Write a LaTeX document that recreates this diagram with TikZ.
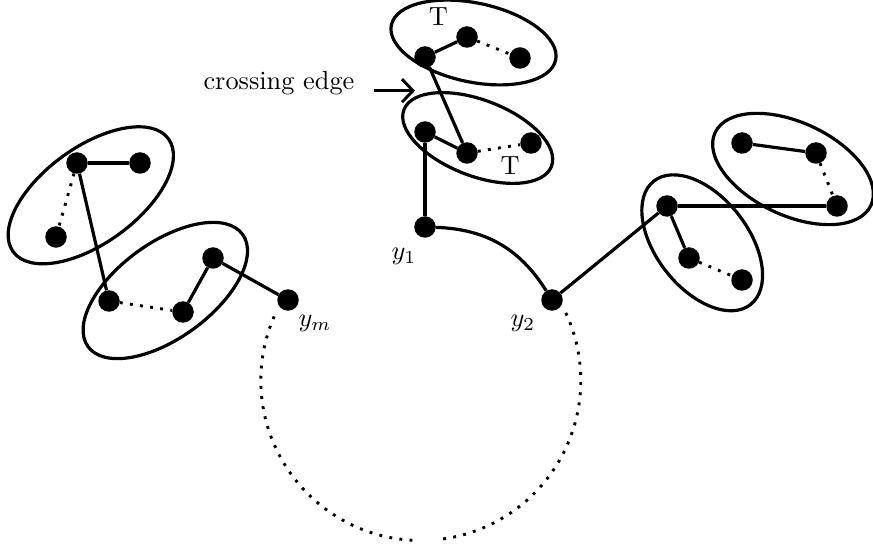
\documentclass[tikz,border=0pt]{standalone}
\usetikzlibrary{arrows.meta}
\begin{document}
\begin{tikzpicture}[x=1pt,y=1pt,
  vtx/.style={circle,fill=black,inner sep=0pt,minimum size=21.5pt},
  edge/.style={line width=3.2pt},
  dotedge/.style={line width=2.9pt, dash pattern=on 2.9pt off 7.3pt},
  grp/.style={line width=3.2pt},
  lbl/.style={inner sep=0pt, scale=2.63}]
\useasboundingbox (0,0) rectangle (873,552);

% groups
\draw[grp, rotate around={-12:(473.5,509.5)}] (473.5,509.5) ellipse [x radius=84pt, y radius=39.5pt];
\draw[grp, rotate around={-21:(477.7,414)}] (477.7,414) ellipse [x radius=79pt, y radius=38pt];
\draw[grp, rotate around={36:(90.8,356.7)}] (90.8,356.7) ellipse [x radius=96pt, y radius=48pt];
\draw[grp, rotate around={36:(165.3,261.5)}] (165.3,261.5) ellipse [x radius=95.5pt, y radius=47.7pt];
\draw[grp, rotate around={-52:(702.2,309.2)}] (702.2,309.2) ellipse [x radius=78.4pt, y radius=46pt];
\draw[grp, rotate around={-25:(793,383)}] (793,383) ellipse [x radius=86pt, y radius=46.5pt];

% vertices
\node[vtx] (a1) at (425,495) {};
\node[vtx] (a2) at (467,515) {};
\node[vtx] (a3) at (520,494) {};
\node[vtx] (b1) at (425,420) {};
\node[vtx] (b2) at (467,399) {};
\node[vtx] (b3) at (531,409) {};
\node[vtx] (y1) at (425,325) {};
\node[vtx] (c1) at (77,389) {};
\node[vtx] (c2) at (140,389) {};
\node[vtx] (c3) at (56,315) {};
\node[vtx] (d1) at (109,251) {};
\node[vtx] (d2) at (183,240) {};
\node[vtx] (d3) at (213,294) {};
\node[vtx] (ym) at (288,252) {};
\node[vtx] (y2) at (552,252) {};
\node[vtx] (e1) at (667,346) {};
\node[vtx] (e2) at (689,294) {};
\node[vtx] (e3) at (742,272) {};
\node[vtx] (f1) at (742,409) {};
\node[vtx] (f2) at (816,399) {};
\node[vtx] (f3) at (837,346) {};
\coordinate (cc) at (420.8,171.5);

% edges
\draw[edge] (a1) -- (a2);
\draw[dotedge] (a2) -- (a3);
\draw[edge] (b1) -- (b2);
\draw[dotedge] (b2) -- (b3);
\draw[edge] (a1) -- (b2);
\draw[edge] (b1) -- (y1);
\draw[edge] (c1) -- (c2);
\draw[dotedge] (c1) -- (c3);
\draw[edge] (c1) -- (d1);
\draw[dotedge] (d1) -- (d2);
\draw[edge] (d2) -- (d3);
\draw[edge] (d3) -- (ym);
\draw[edge] (y1) to[bend left=28] (y2);
\draw[edge] (y2) -- (e1);
\draw[edge] (e1) -- (e2);
\draw[dotedge] (e2) -- (e3);
\draw[edge] (e1) -- (f3);
\draw[edge] (f1) -- (f2);
\draw[dotedge] (f2) -- (f3);
\draw[dotedge] ([shift={(25:160pt)}]cc) arc[start angle=25, end angle=-83, radius=160pt];
\draw[dotedge] ([shift={(-93:160pt)}]cc) arc[start angle=-93, end angle=-203.6, radius=160pt];

% labels
\node[lbl, anchor=base west] (ce) at (203,462) {crossing edge};
\coordinate (arrowend) at (415,461.3);
\draw[line width=2.9pt, -{Straight Barb[length=11pt,width=23pt]}] ([xshift=19pt,yshift=-0.7pt]ce.base east) -- (arrowend);
\node[lbl, anchor=base] (t1) at (438.3,526.3) {T};
\node[lbl, anchor=base] (t2) at (510,377) {T};
\node[lbl, anchor=base west] (ly1) at (391,292) {$y_1$};
\node[lbl, anchor=base west] (lym) at (298,225.3) {$y_m$};
\node[lbl, anchor=base west] (ly2) at (510,225.3) {$y_2$};
\end{tikzpicture}
\end{document}
